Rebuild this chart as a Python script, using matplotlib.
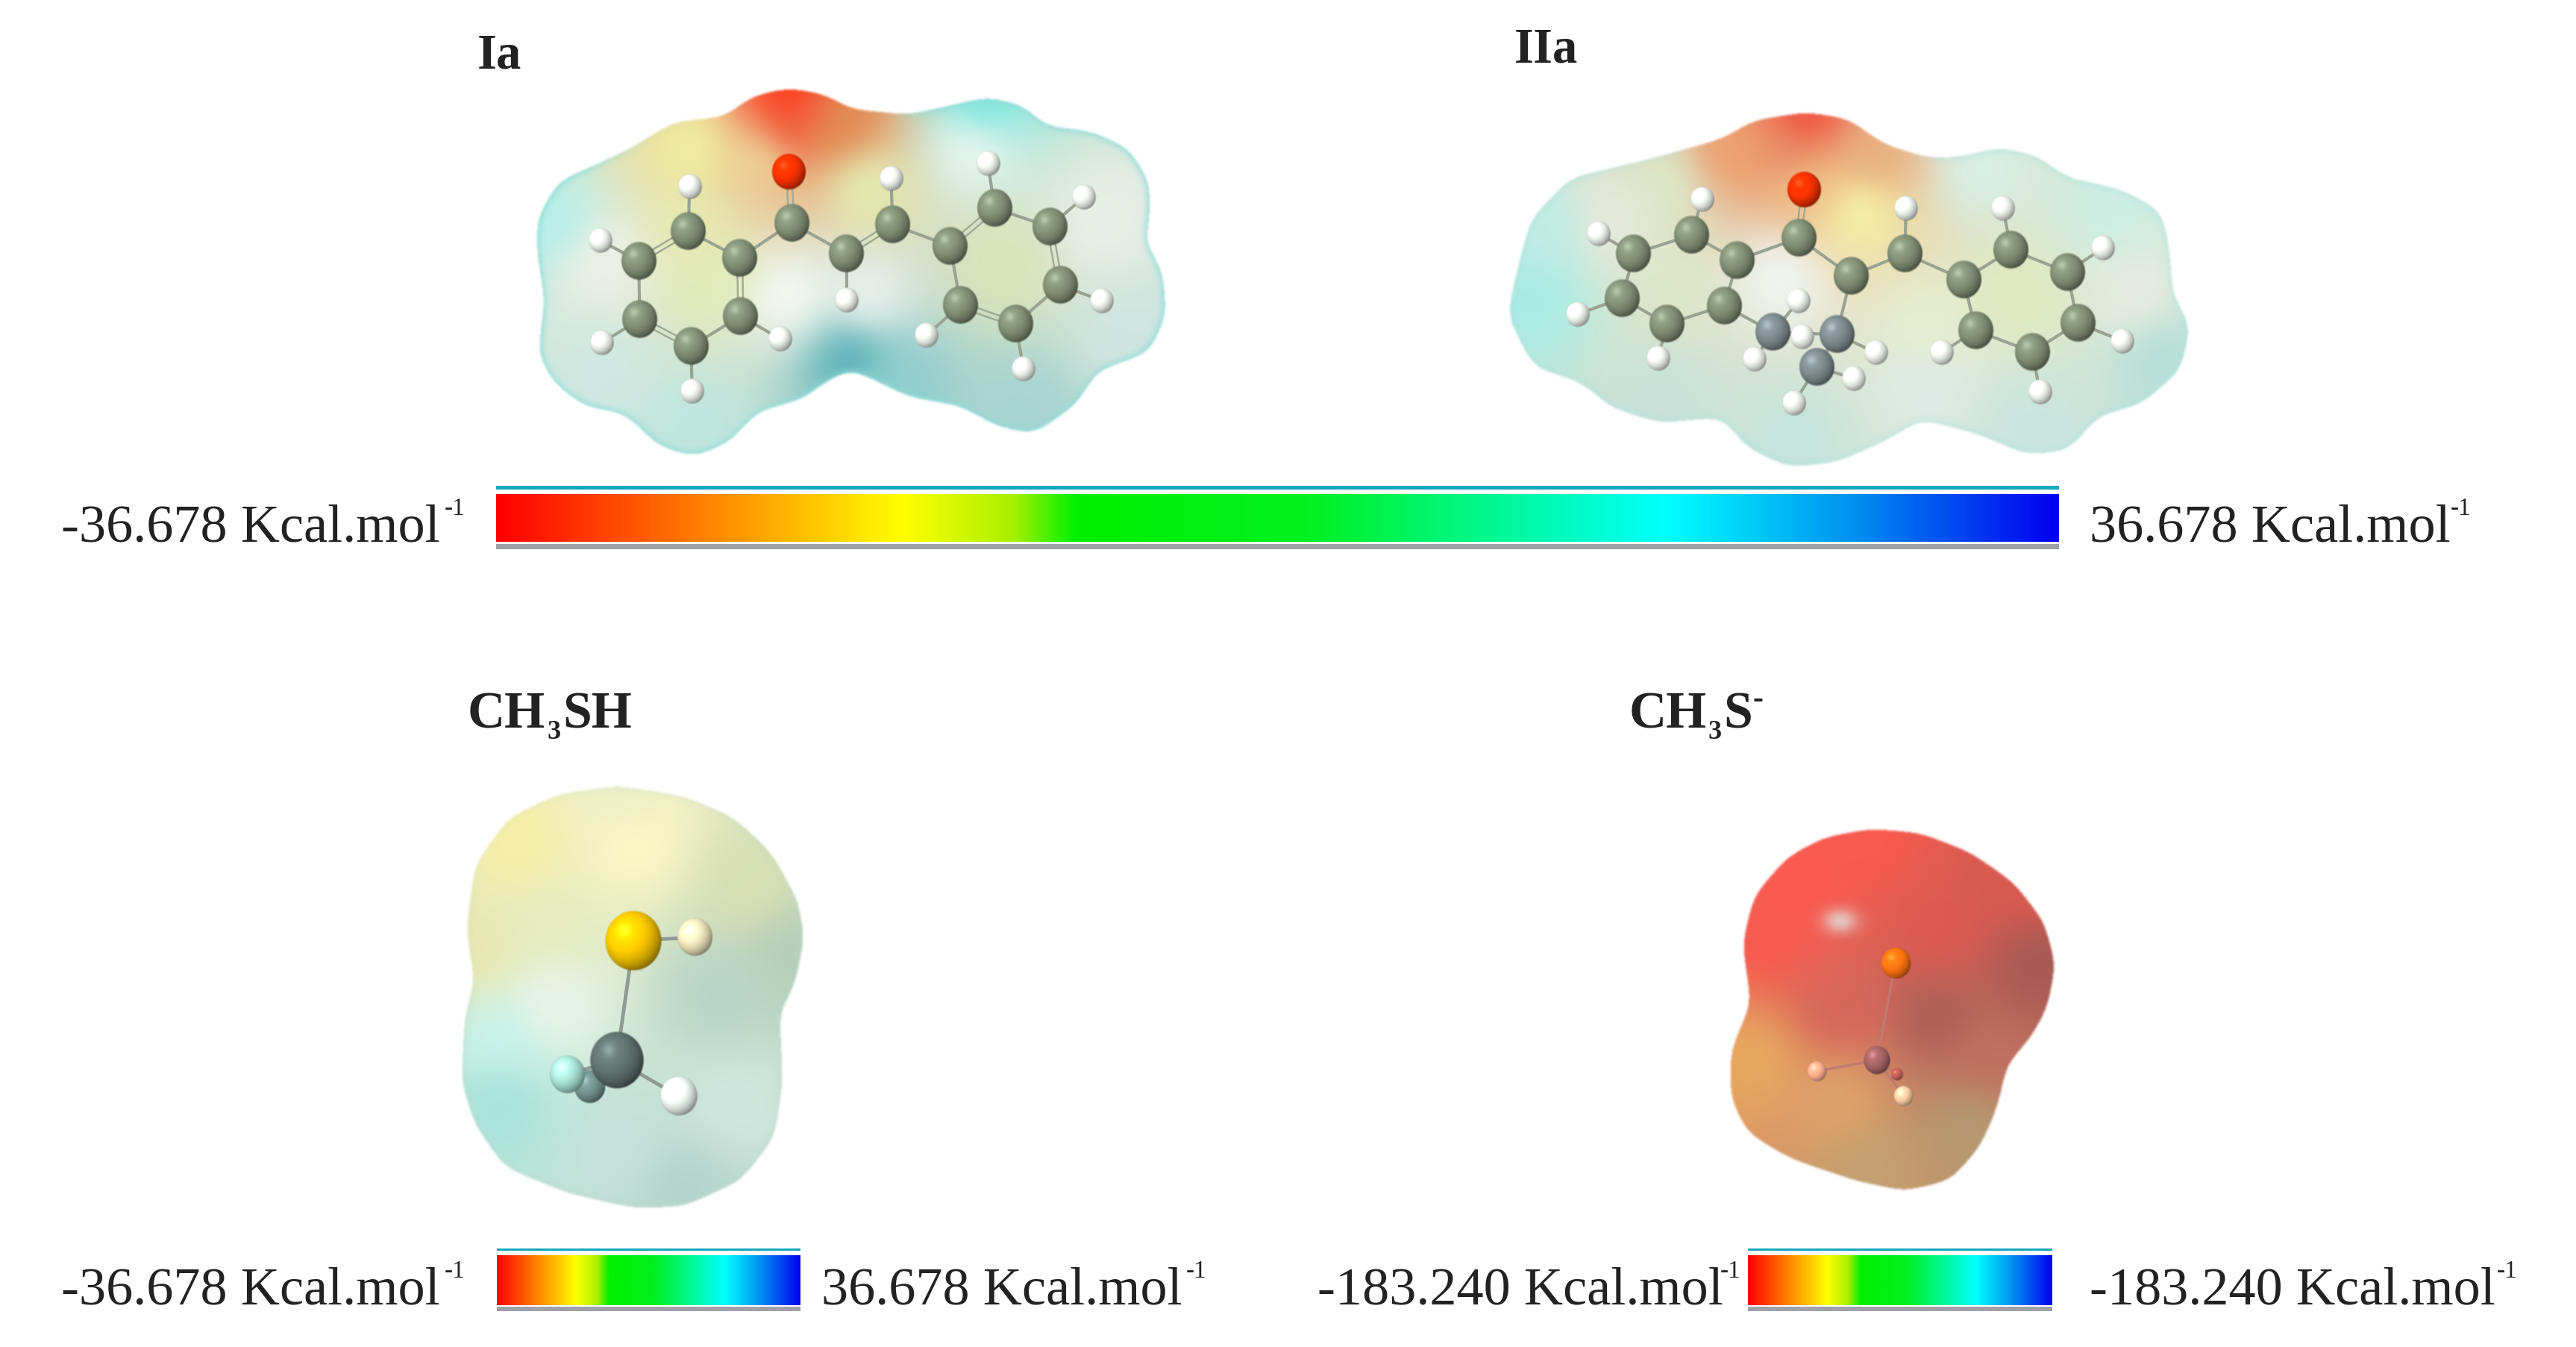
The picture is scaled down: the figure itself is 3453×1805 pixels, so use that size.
import numpy as np
import matplotlib
matplotlib.use('Agg')
import matplotlib.pyplot as plt
from matplotlib.colors import LinearSegmentedColormap, to_rgb
from matplotlib.patches import Rectangle
from matplotlib.path import Path

plt.rcParams['font.family'] = ['Liberation Serif', 'DejaVu Serif']

W, H = 3453, 1806
TEXT = '#222222'

# crop windows the coordinates were read from: x0, y0, scale x, scale y
CROP_IA = (600, 0, 1.425, 2.01)
CROP_IIA = (1950, 0, 1.425, 2.01)
CROP_SH = (560, 900, 2.24, 1.73)
CROP_S = (2150, 900, 2.24, 1.73)

# Ia
ia_outline = [(650, 238), (720, 255), (770, 295), (880, 310), (960, 285), (1030, 262), (1100, 285), (1140, 340),
              (1230, 355), (1300, 400), (1340, 490), (1340, 600), (1330, 650), (1365, 730), (1372, 850), (1340, 950),
              (1240, 1000), (1200, 1090), (1120, 1170), (1050, 1150), (980, 1095), (880, 1070), (770, 995), (720, 1030),
              (680, 1075), (590, 1110), (540, 1190), (470, 1232), (400, 1200), (340, 1115), (260, 1095), (200, 1030),
              (172, 950), (185, 810), (170, 680), (170, 590), (210, 490), (290, 440), (350, 400), (430, 330),
              (530, 315), (580, 260)]
ia_colors = [(650, 250, '#ff3c20'), (650, 330, '#f0603a'), (590, 430, '#eed09a'), (750, 340, '#e28a50'),
             (470, 400, '#f0eda0'), (460, 600, '#e6eab0'), (800, 500, '#e4ebb0'), (1060, 720, '#d8e4b8'),
             (500, 750, '#e2ecb8'), (650, 800, '#f3f8f2'), (300, 700, '#eef0e8'), (1000, 400, '#e5f5ee'),
             (1250, 600, '#e8efe8'), (770, 970, '#5fb4ba'), (850, 1030, '#90ced0'), (470, 1150, '#c0e6e0'),
             (300, 1000, '#cfe9e2'), (1100, 1100, '#a8d4d0'), (1300, 900, '#cfe6e0'), (800, 800, '#e8f0ec'),
             (1020, 280, '#80e8e0'), (200, 600, '#b8efe8')]
ia_atoms = [(460, 625, 'C'), (365, 705, 'C'), (558, 697, 'C'), (367, 862, 'C'), (465, 935, 'C'), (560, 853, 'C'),
            (657, 603, 'C'), (652, 465, 'O'), (762, 685, 'C'), (850, 607, 'C'), (960, 665, 'C'), (1045, 563, 'C'),
            (1150, 613, 'C'), (1170, 770, 'C'), (1085, 875, 'C'), (980, 823, 'C'),
            (462, 505, 'H'), (292, 650, 'H'), (295, 925, 'H'), (467, 1055, 'H'), (635, 915, 'H'), (762, 810, 'H'),
            (847, 482, 'H'), (1032, 442, 'H'), (1215, 533, 'H'), (1250, 812, 'H'), (1100, 995, 'H'), (915, 905, 'H')]
ia_bonds = [(0, 1, 2), (1, 3, 1), (3, 4, 2), (4, 5, 1), (5, 2, 2), (2, 0, 1), (2, 6, 1), (6, 7, 2), (6, 8, 1), (8, 9, 2),
            (9, 10, 1), (10, 11, 2), (11, 12, 1), (12, 13, 2), (13, 14, 1), (14, 15, 2), (15, 10, 1),
            (0, 16, 1), (1, 17, 1), (3, 18, 1), (4, 19, 1), (5, 20, 1), (8, 21, 1), (9, 22, 1), (11, 23, 1),
            (12, 24, 1), (13, 25, 1), (14, 26, 1), (15, 27, 1)]

# IIa
iia_outline = [(670, 303), (750, 320), (820, 390), (900, 425), (960, 425), (1040, 398), (1110, 420), (1170, 480),
               (1270, 510), (1350, 570), (1365, 680), (1370, 790), (1405, 880), (1385, 1000), (1310, 1090), (1230, 1120),
               (1170, 1215), (1090, 1225), (1000, 1170), (890, 1130), (820, 1190), (730, 1245), (640, 1260), (560, 1210),
               (510, 1125), (390, 1140), (300, 1100), (240, 1030), (150, 990), (100, 850), (120, 720), (145, 590),
               (220, 480), (370, 430), (510, 375), (570, 325)]
iia_colors = [(670, 315, '#f25040'), (650, 400, '#e88a66'), (530, 410, '#eea070'), (800, 420, '#e8b080'),
              (680, 500, '#f0c088'), (770, 570, '#f6f0a8'), (400, 500, '#dce8c8'), (300, 600, '#e8eadc'),
              (420, 760, '#dde8c8'), (620, 750, '#eef5f0'), (1080, 800, '#dfeac0'), (900, 880, '#e6eed0'),
              (1000, 450, '#d8f0e6'), (1250, 560, '#cdeee4'), (1300, 800, '#e6ecdf'), (1350, 960, '#b8dfd8'),
              (150, 800, '#a8ece4'), (180, 620, '#c0ece4'), (650, 1180, '#c5e5dc'), (400, 1080, '#c8e2da'),
              (1100, 1150, '#c8e5de'), (900, 1050, '#dcebe6')]
iia_atoms = [(453, 635, 'C'), (342, 685, 'C'), (320, 805, 'C'), (405, 875, 'C'), (515, 825, 'C'), (540, 703, 'C'),
             (657, 643, 'C'), (668, 512, 'O'), (757, 745, 'C'), (860, 685, 'C'), (972, 755, 'C'), (1063, 675, 'C'),
             (1170, 735, 'C'), (1190, 872, 'C'), (1103, 950, 'C'), (995, 892, 'C'),
             (608, 897, 'D'), (730, 903, 'D'), (692, 990, 'D'),
             (472, 540, 'H'), (275, 632, 'H'), (235, 848, 'H'), (388, 968, 'H'), (657, 812, 'H'), (663, 908, 'H'),
             (572, 970, 'H'), (805, 952, 'H'), (762, 1022, 'H'), (648, 1087, 'H'), (862, 563, 'H'), (1047, 563, 'H'),
             (1238, 670, 'H'), (1275, 920, 'H'), (1118, 1058, 'H'), (930, 952, 'H')]
iia_bonds = [(0, 1, 1), (1, 2, 1), (2, 3, 1), (3, 4, 1), (4, 5, 1), (5, 0, 1), (5, 6, 1), (6, 7, 2), (6, 8, 1), (8, 9, 1),
             (9, 10, 1), (10, 11, 1), (11, 12, 1), (12, 13, 1), (13, 14, 1), (14, 15, 1), (15, 10, 1), (8, 17, 1),
             (4, 16, 1), (16, 17, 1), (17, 18, 1), (0, 19, 1), (1, 20, 1), (2, 21, 1), (3, 22, 1), (16, 23, 1),
             (16, 24, 1), (16, 25, 1), (17, 26, 1), (18, 27, 1), (18, 28, 1), (9, 29, 1), (11, 30, 1), (12, 31, 1),
             (13, 32, 1), (14, 33, 1), (15, 34, 1)]

# CH3SH
sh_outline = [(600, 265), (800, 290), (950, 340), (1060, 420), (1140, 530), (1160, 620), (1130, 730), (1085, 790),
              (1095, 950), (1070, 1080), (970, 1180), (800, 1240), (650, 1245), (450, 1210), (260, 1150), (170, 1050),
              (130, 950), (140, 800), (170, 720), (145, 600), (170, 450), (270, 340), (420, 285)]
sh_colors = [(300, 400, '#f6eea8'), (650, 400, '#fbf7c4'), (1000, 500, '#d8dfb4'), (1120, 650, '#b6cfb8'),
             (400, 600, '#e6ecc0'), (400, 770, '#e8f5ea'), (250, 850, '#c8f2ea'), (250, 1000, '#a8e4da'),
             (600, 1100, '#c5e2da'), (950, 1000, '#cfe6de'), (900, 750, '#b8d6c8'), (800, 1200, '#b5d5cc'),
             (180, 650, '#e8e8b0'), (600, 290, '#eef0c8')]
sh_atoms = [(515, 965, 22, '#6f8d88'), (597, 903, 37, '#5d706e'), (450, 935, 25, '#a5dcd0'), (782, 985, 26, '#e8f0ec'),
            (832, 618, 25, '#e8e0b8'), (648, 625, 39, '#f2c200')]
sh_bonds = [(5, 4), (5, 1), (1, 2), (1, 0), (1, 3)]

# CH3S-
s_outline = [(800, 365), (950, 375), (1100, 420), (1230, 490), (1320, 580), (1355, 680), (1330, 780), (1280, 850),
             (1210, 910), (1180, 1010), (1130, 1100), (1040, 1180), (900, 1205), (750, 1180), (560, 1130), (430, 1070),
             (380, 990), (380, 880), (440, 770), (415, 630), (450, 520), (550, 430), (660, 385)]
s_colors = [(600, 500, '#fa5a50'), (800, 400, '#f85a4e'), (1000, 600, '#dd5a50'), (1300, 680, '#a85a55'),
            (1000, 800, '#b06058'), (700, 780, '#d8665a'), (450, 900, '#e8a860'), (700, 1000, '#dda36b'),
            (800, 1150, '#c4a070'), (1100, 1050, '#b59a70'), (1150, 900, '#c07060'),
            (500, 620, '#f85a50'), (1250, 500, '#d85a50')]
s_highlight = (710, 580, 42, '#e4d8d4')
s_atoms = [(880, 935, 9, '#b85a50'), (820, 902, 19, '#a06060'), (640, 928, 14, '#f5a888'), (900, 985, 14, '#f5c8a0'),
           (875, 677, 21, '#f57010')]
s_bonds = [(4, 1), (1, 2), (1, 3), (1, 0)]

# colour scale
scale_pos = [0.0, 0.13, 0.26, 0.33, 0.37, 0.52, 0.75, 0.87, 1.0]
scale_col = ['#ff0000', '#ff8000', '#ffff00', '#a8f000', '#00f000', '#00f020', '#00ffff', '#0090f0', '#0000f0']

# labels
unit_labels = [('-36.678 Kcal.mol', 82, 726, 596, 690), ('36.678 Kcal.mol', 2801, 726, 3285, 690),
               ('-36.678 Kcal.mol', 82, 1748, 596, 1712), ('36.678 Kcal.mol', 1101, 1748, 1590, 1712),
               ('-183.240 Kcal.mol', 1766, 1748, 2306, 1712), ('-183.240 Kcal.mol', 2801, 1748, 3347, 1712)]
titles = [('Ia', 640, 92, 48), ('IIa', 2030, 83, 48), ('CH', 627, 976, 50), ('3', 734, 990, 26), ('SH', 754, 976, 50),
          ('CH', 2184, 976, 50), ('3', 2290, 990, 26), ('S', 2310, 976, 50), ('-', 2350, 948, 30)]

ELEMENT = {'C': (25, '#7c8a70'), 'D': (25, '#788688'), 'H': (17, '#e4e8e2'), 'O': (24, '#f03000')}


def to_px(x, y, crop):
    x0, y0, sx, sy = crop
    return x0 + x / sx, y0 + y / sy


def box_blur(a, r, passes=3):
    for _ in range(passes):
        for axis in (0, 1):
            c = np.cumsum(np.pad(a, [(r + 1, r) if i == axis else (0, 0) for i in (0, 1)], mode='edge'), axis=axis)
            if axis == 0:
                a = (c[2 * r + 1:, :] - c[:-2 * r - 1, :]) / (2 * r + 1)
            else:
                a = (c[:, 2 * r + 1:] - c[:, :-2 * r - 1]) / (2 * r + 1)
    return a


def surface(ax, outline, colors, crop, rim='#90dcd8', rim_amount=0.8):
    pts = np.array([to_px(x, y, crop) for x, y in outline])
    x0, y0 = np.floor(pts.min(axis=0)).astype(int) - 40
    x1, y1 = np.ceil(pts.max(axis=0)).astype(int) + 40
    xx, yy = np.meshgrid(np.arange(x0, x1), np.arange(y0, y1))
    inside = Path(pts).contains_points(np.c_[xx.ravel(), yy.ravel()]).reshape(xx.shape).astype(float)
    shape = (box_blur(inside, 13) > 0.5).astype(float)
    alpha = box_blur(shape, 1)
    depth = np.clip((box_blur(shape, 7) - 0.5) / 0.5, 0, 1)

    cp = np.array([to_px(x, y, crop) for x, y, _ in colors])
    rgb_cp = np.array([to_rgb(c) for _, _, c in colors])
    d2 = (xx[..., None] - cp[:, 0]) ** 2 + (yy[..., None] - cp[:, 1]) ** 2 + 25.0
    wt = d2 ** -1.5
    rgb = (wt[..., None] * rgb_cp).sum(axis=2) / wt.sum(axis=2, keepdims=True)
    rgb = np.dstack([box_blur(rgb[..., k], 16) for k in range(3)])

    # teal rim, left out on the red part of the surface
    mix = rim_amount * (1 - depth) ** 1.5 * np.clip(1 - (rgb[..., 0] - rgb[..., 2]) * 3, 0, 1)
    rgb = rgb * (1 - mix[..., None]) + np.array(to_rgb(rim)) * mix[..., None]
    ax.imshow(np.dstack([rgb, alpha]), extent=(x0, x1, y1, y0), aspect='auto', zorder=1, interpolation='nearest')


def glow(ax, x, y, r, color):
    # soft light spot on the surface
    v, u = np.mgrid[-1:1:64j, -1:1:64j]
    a = 0.85 * np.exp(-(u ** 2 + v ** 2) / 0.16)
    rgb = np.ones(a.shape + (3,)) * np.array(to_rgb(color))
    ax.imshow(np.dstack([rgb, a]), extent=(x - 1.4 * r, x + 1.4 * r, y + r, y - r), aspect='auto', zorder=1.5,
              interpolation='bilinear')


def ball(ax, x, y, r, color, z):
    n = max(int(2 * r) + 4, 16)
    v, u = np.mgrid[-1.1:1.1:n * 1j, -1.1:1.1:n * 1j]
    d2 = u ** 2 + v ** 2
    front = np.sqrt(np.clip(1 - d2, 0, 1))
    lit = 0.62 + 0.5 * front - 0.2 * (u + v)
    spec = np.exp(-((u + 0.3) ** 2 + (v + 0.35) ** 2) / 0.05) * 0.14
    rgb = np.clip(np.array(to_rgb(color)) * lit[..., None] + spec[..., None], 0, 1)
    alpha = np.clip((1 - np.sqrt(d2)) * n / 5, 0, 1)
    s = r * 1.1
    ax.imshow(np.dstack([rgb, alpha]), extent=(x - s, x + s, y + s * 1.06, y - s * 1.06), aspect='auto', zorder=z,
              interpolation='bilinear')


def molecule(ax, atoms, bonds, crop):
    xy = [to_px(a[0], a[1], crop) for a in atoms]
    for i, j, order in bonds:
        (xa, ya), (xb, yb) = xy[i], xy[j]
        if order == 2:
            nx, ny = yb - ya, xa - xb
            ln = np.hypot(nx, ny)
            nx, ny = 3.5 * nx / ln, 3.5 * ny / ln
            for k in (-1, 1):
                ax.plot([xa + k * nx, xb + k * nx], [ya + k * ny, yb + k * ny], color='#a2ab98', lw=1.8, zorder=2)
        else:
            ax.plot([xa, xb], [ya, yb], color='#9aa392', lw=3, zorder=2)
    for n, (x, y, el) in enumerate(atoms):
        r, c = ELEMENT[el]
        ball(ax, *xy[n], r, c, 3 + n * 0.01)


def small_molecule(ax, atoms, bonds, crop, bond_color, lw):
    xy = [to_px(a[0], a[1], crop) for a in atoms]
    for i, j in bonds:
        ax.plot([xy[i][0], xy[j][0]], [xy[i][1], xy[j][1]], color=bond_color, lw=lw, zorder=2)
    for n, a in enumerate(atoms):
        ball(ax, *xy[n], a[2], a[3], 3 + n * 0.01)


def colorbar(ax, x0, x1, top, y0, y1, bottom, band_top, band_bottom):
    grad = np.linspace(0, 1, 512).reshape(1, -1)
    ax.imshow(grad, cmap=scale_cmap, extent=(x0, x1, y1, y0), aspect='auto', zorder=2, interpolation='bilinear')
    ax.add_patch(Rectangle((x0, top), x1 - x0, band_top, color='#14a6bc', lw=0, zorder=2))
    ax.add_patch(Rectangle((x0, bottom - band_bottom), x1 - x0, band_bottom, color='#a0a0a8', lw=0, zorder=2))


scale_cmap = LinearSegmentedColormap.from_list('esp', list(zip(scale_pos, scale_col)), N=512)

fig = plt.figure(figsize=(W / 100, H / 100), dpi=100, facecolor='white')
ax = fig.add_axes([0, 0, 1, 1])
ax.set_xlim(0, W)
ax.set_ylim(H, 0)
ax.autoscale(False)
ax.axis('off')

surface(ax, ia_outline, ia_colors, CROP_IA)
molecule(ax, ia_atoms, ia_bonds, CROP_IA)
surface(ax, iia_outline, iia_colors, CROP_IIA, rim='#b0e2dc', rim_amount=0.55)
molecule(ax, iia_atoms, iia_bonds, CROP_IIA)
surface(ax, sh_outline, sh_colors, CROP_SH, rim='#b8d4c8', rim_amount=0.35)
small_molecule(ax, sh_atoms, sh_bonds, CROP_SH, '#8f9a94', 3.5)
surface(ax, s_outline, s_colors, CROP_S, rim_amount=0)
glow(ax, *to_px(*s_highlight[:2], CROP_S), s_highlight[2], s_highlight[3])
small_molecule(ax, s_atoms, s_bonds, CROP_S, '#c07a70', 2.5)

colorbar(ax, 665, 2760, 652, 663, 727, 737, 5, 7)
colorbar(ax, 666, 1073, 1674, 1683, 1750, 1758, 3, 6)
colorbar(ax, 2343, 2751, 1674, 1683, 1750, 1758, 3, 6)

for s, x, y, sx, sy in unit_labels:
    ax.text(x, y, s, fontsize=52, color=TEXT, ha='left', va='baseline', zorder=5)
    ax.text(sx, sy, '-1', fontsize=24, color=TEXT, ha='left', va='baseline', zorder=5)
for s, x, y, size in titles:
    ax.text(x, y, s, fontsize=size, fontweight='bold', color=TEXT, ha='left', va='baseline', zorder=5)

ax.set_xlim(0, W)
ax.set_ylim(H, 0)
fig.savefig('out.png', dpi=100, facecolor='white')
